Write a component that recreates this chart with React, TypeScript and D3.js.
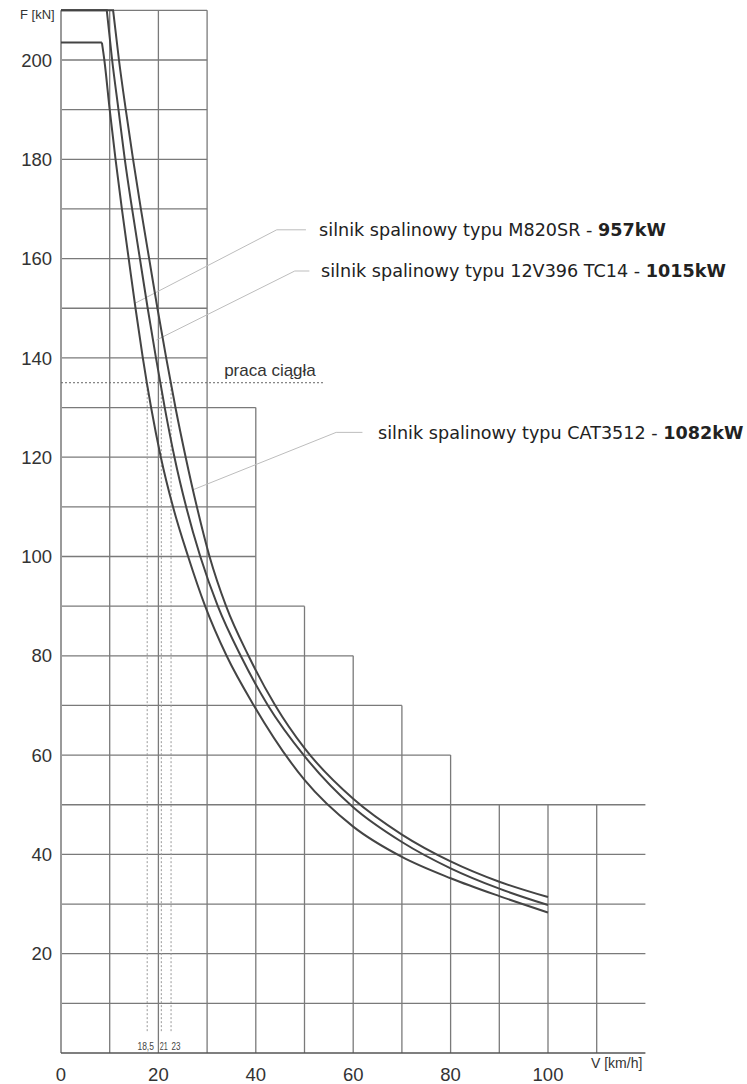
import * as d3 from "d3";

// tractive effort curves F(V)
const speedM820 = [8.4, 8.9, 10.0, 11.2, 12.5, 13.9, 15.3, 16.8, 18.5, 20.5, 23.0, 26.1, 29.6, 34.0, 39.6, 50, 60, 70, 80, 90, 100];
const forceM820 = [203.5, 200, 190, 180, 170, 160, 150, 140, 130, 120, 110, 100, 90, 80, 70, 55.0, 45.6, 39.5, 35.2, 31.6, 28.3];
const speed12V = [9.4, 10.5, 11.8, 13.1, 14.6, 16.2, 17.8, 19.5, 21.3, 23.3, 25.7, 28.6, 32.2, 36.9, 42.5, 50, 60, 70, 80, 90, 100];
const force12V = [210, 200, 190, 180, 170, 160, 150, 140, 130, 120, 110, 100, 90, 80, 70, 59.8, 49.5, 42.5, 37.2, 33.1, 29.8];
const speedCAT = [10.7, 11.9, 13.3, 14.8, 16.4, 18.1, 19.8, 21.6, 23.5, 25.6, 27.9, 30.5, 33.9, 38.5, 44.0, 50, 60, 70, 80, 90, 100];
const forceCAT = [210, 200, 190, 180, 170, 160, 150, 140, 130, 120, 110, 100, 90, 80, 70, 61.4, 51.2, 44.0, 38.6, 34.5, 31.4];

const engineNames = ["silnik spalinowy typu M820SR - ", "silnik spalinowy typu 12V396 TC14 - ", "silnik spalinowy typu CAT3512 - "];
const enginePowers = ["957kW", "1015kW", "1082kW"];

// stepped grid outline: row right edge (km/h) / column top (kN)
const gridSpeedSteps = [30, 40, 50, 60, 70, 80, 120];
const gridForceSteps = [210, 130, 90, 80, 70, 60, 50];

const speedTicks = [0, 20, 40, 60, 80, 100];
const forceTicks = [20, 40, 60, 80, 100, 120, 140, 160, 180, 200];

const continuousForce = 135;
const markerSpeeds = [17.7, 20.6, 22.6];
const markerLabels = ["18,5", "21", "23"];

const W = 747;
const H = 1084;
const x = d3.scaleLinear().domain([0, 100]).range([61, 548]);
const y = d3.scaleLinear().domain([0, 200]).range([1053, 60]);

const numFont = "'Liberation Sans', Arial, sans-serif";
const labelFont = "'DejaVu Sans', Verdana, sans-serif";

const curveLine = d3
  .line<[number, number]>()
  .x((d) => x(d[0]))
  .y((d) => y(d[1]))
  .curve(d3.curveMonotoneX);

function seriesPath(speeds: number[], forces: number[]) {
  const pts: [number, number][] = speeds.map((v, i) => [v, forces[i]]);
  // flat limit first, then the falling part
  return `M${x(0)},${y(forces[0])}L${x(speeds[0])},${y(forces[0])}` + curveLine(pts)!.replace(/^M/, "L");
}

const leaders = [
  { anchor: [15.2, 151.0], elbow: [44.3, 165.8], end: [50.3, 165.8], text: 53.0 },
  { anchor: [19.6, 143.6], elbow: [48.0, 157.5], end: [51.0, 157.5], text: 53.4 },
  { anchor: [27.0, 113.4], elbow: [56.5, 125.0], end: [61.9, 125.0], text: 65.1 },
];

const markerOffsets = [-1.5, 2.5, 5];
const markerWidths = [16.5, 8, 9];

export default function App() {
  const verticals = d3.range(10, 120, 10).map((v) => {
    const i = gridSpeedSteps.findIndex((s) => v <= s);
    return { v, top: gridForceSteps[i] };
  });
  const horizontals = d3.range(10, 220, 10).map((f) => {
    const right = d3.max(gridSpeedSteps.filter((_, i) => gridForceSteps[i] >= f))!;
    return { f, right };
  });

  const series = [
    [speedM820, forceM820],
    [speed12V, force12V],
    [speedCAT, forceCAT],
  ];

  return (
    <svg width={W} height={H} style={{ position: "absolute", left: 0, top: 0, background: "#fff" }}>
      <g stroke="#7a7a7a" strokeWidth={1.3} fill="none">
        {verticals.map((d) => (
          <line key={"v" + d.v} x1={x(d.v)} x2={x(d.v)} y1={y(0)} y2={y(d.top)} />
        ))}
        {horizontals.map((d) => (
          <line key={"h" + d.f} x1={x(0)} x2={x(d.right)} y1={y(d.f)} y2={y(d.f)} />
        ))}
      </g>
      {/* axes */}
      <line x1={x(0)} x2={x(0)} y1={y(0)} y2={y(210)} stroke="#9a9a9a" strokeWidth={2} />
      <line x1={x(0)} x2={x(120)} y1={y(0)} y2={y(0)} stroke="#555" strokeWidth={1.5} />

      {/* continuous duty */}
      <line
        x1={x(0)}
        x2={x(53.8)}
        y1={y(continuousForce)}
        y2={y(continuousForce)}
        stroke="#666"
        strokeWidth={1}
        strokeDasharray="2,2"
      />
      <text x={x(33.5)} y={y(136.4)} fontFamily={numFont} fontSize={17} fill="#333">
        praca ciągła
      </text>
      {markerSpeeds.map((v) => (
        <line
          key={"m" + v}
          x1={x(v)}
          x2={x(v)}
          y1={y(4.4)}
          y2={y(continuousForce)}
          stroke="#999"
          strokeWidth={1}
          strokeDasharray="2,2"
        />
      ))}
      {markerLabels.map((t, i) => (
        <text
          key={t}
          x={x(markerSpeeds[i]) + markerOffsets[i]}
          y={1050}
          textAnchor="middle"
          fontFamily={numFont}
          fontSize={11.5}
          textLength={markerWidths[i]}
          lengthAdjust="spacingAndGlyphs"
          fill="#444"
        >
          {t}
        </text>
      ))}

      {/* leaders */}
      <g stroke="#bdbdbd" strokeWidth={1} fill="none">
        {leaders.map((l, i) => (
          <polyline
            key={i}
            points={[l.anchor, l.elbow, l.end].map((p) => `${x(p[0])},${y(p[1])}`).join(" ")}
          />
        ))}
      </g>
      {leaders.map((l, i) => (
        <text key={"t" + i} x={x(l.text)} y={y(l.end[1])} dy="0.35em" fontFamily={labelFont} fontSize={17.6} fill="#222">
          {engineNames[i]}
          <tspan fontWeight="bold">{enginePowers[i]}</tspan>
        </text>
      ))}

      {/* curves */}
      <g stroke="#444" strokeWidth={2} fill="none">
        {series.map((s, i) => (
          <path key={i} d={seriesPath(s[0], s[1])} />
        ))}
      </g>

      {/* tick labels */}
      {forceTicks.map((f) => (
        <text key={f} x={52} y={y(f)} dy="0.36em" textAnchor="end" fontFamily={numFont} fontSize={18.5} fill="#333">
          {f}
        </text>
      ))}
      {speedTicks.map((v) => (
        <text key={v} x={x(v)} y={1081} textAnchor="middle" fontFamily={numFont} fontSize={18.5} fill="#333">
          {v}
        </text>
      ))}
      <text x={20} y={19} fontFamily={numFont} fontSize={13} fill="#333">
        F [kN]
      </text>
      <text x={591} y={1068} fontFamily={numFont} fontSize={14} fill="#333">
        V [km/h]
      </text>
    </svg>
  );
}
